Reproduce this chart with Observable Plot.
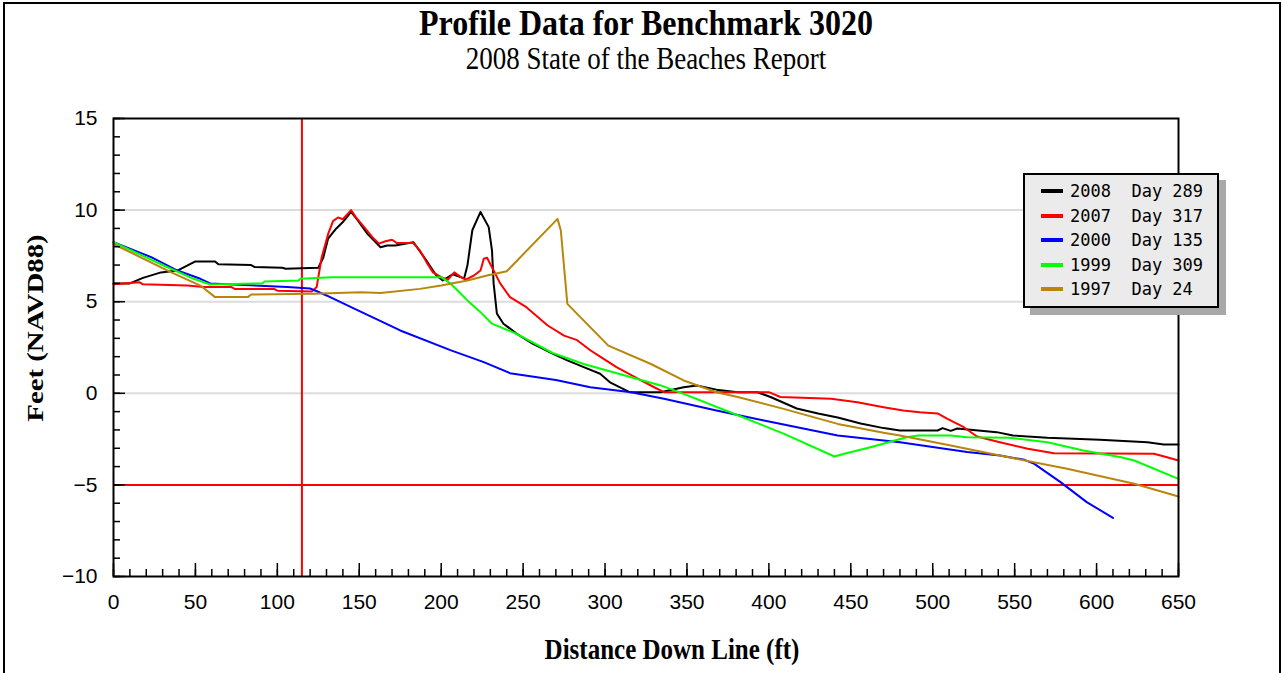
<!DOCTYPE html>
<html><head><meta charset="utf-8">
<script src="https://cdn.jsdelivr.net/npm/d3@7"></script>
<script src="https://cdn.jsdelivr.net/npm/@observablehq/plot@0.6"></script>
<style>
body{margin:0;background:#fff;}
#wrap{position:relative;width:1282px;height:673px;overflow:hidden;background:#fff;}
#border{position:absolute;left:3px;top:2px;width:1274px;height:700px;border:2px solid #000;border-bottom:none;}
.serif{position:absolute;font-family:"Liberation Serif","Times New Roman",serif;color:#000;white-space:nowrap;line-height:1;}
#title{left:5px;width:1282px;top:10px;line-height:0.85;text-align:center;font-size:32px;font-weight:bold;transform:scaleY(1.14);}
#subtitle{left:5px;width:1282px;top:48px;line-height:0.85;text-align:center;font-size:27px;transform:scaleY(1.15);}
#xlabel{left:1145px;width:0;top:636px;font-size:25px;font-weight:bold;}
#xlabel span{position:absolute;left:-1000px;width:2000px;text-align:center;transform:scaleY(1.2);display:block;}
#ylabel{left:-115px;top:313px;width:300px;height:30px;line-height:30px;text-align:center;font-size:24px;font-weight:bold;transform:rotate(-90deg) scaleX(1.2);}
#chart{position:absolute;left:0;top:0;}
#legend{position:absolute;left:1023px;top:173px;width:192px;height:131px;background:#ebebeb;border:2px solid #000;box-shadow:7px 7px 0 #a8a8a8;}
.row{position:absolute;left:0;height:25px;width:192px;}
.sw{position:absolute;left:16px;top:10px;width:22px;height:4px;}
.lt{position:absolute;left:45px;top:0;font-family:"DejaVu Sans Mono","Liberation Mono",monospace;font-size:17px;line-height:25px;white-space:pre;color:#000;}
</style></head><body>
<div id="wrap">
  <div id="border"></div>
  <div id="chart"></div>
  <div id="title" class="serif">Profile Data for Benchmark 3020</div>
  <div id="subtitle" class="serif">2008 State of the Beaches Report</div>
  <div id="ylabel" class="serif">Feet (NAVD88)</div>
  <div id="xlabel" class="serif"><span style="left:-1473px">Distance Down Line (ft)</span></div>
  <div id="legend"></div>
</div>
<script>
// ---- data ----
const seriesNames = ["2008", "2007", "2000", "1999", "1997"];
const seriesDays = ["289", "317", "135", "309", "24"];
const seriesColors = ["#000000", "#ff0000", "#0000ff", "#00ff00", "#b8860b"];

const x2008 = [0, 10, 18, 29, 39, 50, 62, 64, 84, 86, 103, 105, 125, 128, 131, 136, 140, 145, 149, 155, 163, 167, 172, 183, 191, 197, 201, 207, 210, 214, 216, 219, 224, 229, 231, 232, 234, 238, 246, 256, 268, 277, 287, 297, 303, 315, 334, 348, 356, 368, 381, 393, 401, 417, 430, 442, 456, 470, 480, 503, 506, 511, 515, 539, 549, 570, 602, 631, 641, 650];
const y2008 = [6.0, 6.0, 6.3, 6.6, 6.7, 7.2, 7.2, 7.05, 7.0, 6.9, 6.85, 6.8, 6.85, 7.4, 8.45, 9.0, 9.35, 9.9, 9.45, 8.7, 7.97, 8.07, 8.07, 8.25, 7.25, 6.43, 6.16, 6.5, 6.4, 6.27, 6.97, 8.9, 9.9, 9.07, 7.8, 6.0, 4.35, 3.8, 3.26, 2.7, 2.17, 1.8, 1.43, 1.07, 0.6, 0.06, 0.06, 0.33, 0.43, 0.2, 0.06, 0.06, -0.2, -0.83, -1.1, -1.32, -1.65, -1.9, -2.03, -2.03, -1.9, -2.05, -1.92, -2.12, -2.3, -2.43, -2.54, -2.67, -2.8, -2.8];

const x2007 = [0, 16, 18, 45, 55, 72, 74, 98, 100, 121, 124, 127, 131, 134, 137, 140, 145, 148, 153, 158, 162, 166, 170, 173, 183, 187, 191, 195, 200, 204, 208, 212, 215, 220, 224, 226, 228, 232, 236, 242, 252, 265, 275, 283, 291, 297, 307, 320, 330, 336, 400, 407, 438, 454, 470, 482, 492, 503, 509, 519, 527, 541, 558, 574, 635, 643, 650];
const y2007 = [5.95, 6.06, 5.95, 5.88, 5.8, 5.8, 5.7, 5.7, 5.6, 5.55, 5.8, 7.4, 8.7, 9.4, 9.6, 9.5, 10.0, 9.6, 9.07, 8.52, 8.17, 8.3, 8.38, 8.2, 8.2, 7.8, 7.16, 6.6, 6.34, 6.2, 6.6, 6.34, 6.2, 6.43, 6.7, 7.35, 7.4, 6.7, 6.0, 5.25, 4.7, 3.7, 3.15, 2.9, 2.35, 2.0, 1.43, 0.8, 0.33, 0.06, 0.06, -0.2, -0.3, -0.49, -0.76, -0.94, -1.03, -1.1, -1.4, -1.85, -2.36, -2.67, -3.03, -3.27, -3.3, -3.49, -3.67];

const x2000 = [0, 23, 39, 53, 59, 73, 106, 120, 126, 130, 145, 175, 206, 226, 242, 270, 291, 316, 336, 368, 397, 442, 480, 501, 521, 541, 556, 562, 578, 594, 610];
const y2000 = [8.25, 7.43, 6.7, 6.25, 6.0, 5.94, 5.8, 5.72, 5.5, 5.34, 4.7, 3.43, 2.34, 1.7, 1.1, 0.73, 0.33, 0.06, -0.3, -0.94, -1.48, -2.3, -2.67, -2.94, -3.2, -3.4, -3.63, -3.85, -4.85, -5.94, -6.8];

const x1999 = [0, 33, 49, 59, 91, 92, 113, 114, 133, 200, 206, 216, 224, 231, 246, 268, 287, 316, 334, 348, 381, 409, 440, 446, 462, 484, 491, 511, 521, 547, 570, 592, 615, 623, 650];
const y1999 = [8.25, 6.88, 6.25, 5.94, 6.0, 6.1, 6.16, 6.25, 6.34, 6.34, 5.97, 5.07, 4.43, 3.8, 3.25, 2.2, 1.6, 0.88, 0.43, -0.03, -1.2, -2.2, -3.45, -3.3, -2.94, -2.4, -2.3, -2.3, -2.4, -2.43, -2.67, -3.12, -3.49, -3.67, -4.67];

const x1997 = [0, 33, 53, 62, 82, 84, 122, 151, 163, 187, 200, 216, 228, 240, 271, 273, 277, 302, 328, 348, 368, 381, 409, 442, 470, 480, 501, 511, 541, 582, 623, 650];
const y1997 = [8.15, 6.7, 5.88, 5.25, 5.25, 5.39, 5.43, 5.52, 5.47, 5.7, 5.88, 6.16, 6.43, 6.66, 9.52, 8.9, 4.88, 2.6, 1.6, 0.7, 0.06, -0.2, -0.85, -1.67, -2.15, -2.3, -2.67, -2.85, -3.4, -4.12, -4.94, -5.63];

const xTickLabels = [0, 50, 100, 150, 200, 250, 300, 350, 400, 450, 500, 550, 600, 650];
const yTickLabels = [-10, -5, 0, 5, 10, 15];
const gridY = [0, 5, 10];
const refX = [115];
const refY = [-5];

// ---- build ----
const xs = [x2008, x2007, x2000, x1999, x1997];
const ys = [y2008, y2007, y2000, y1999, y1997];
const rows = seriesNames.flatMap((name, i) => xs[i].map((x, j) => ({series: name, x, y: ys[i][j]})));
const xMinor = d3.range(0, 651, 10);
const yMinor = d3.range(-10, 16, 1);
const tickFont = {fontSize: 21, fontFamily: "Liberation Sans, Arial, sans-serif", fill: "#000"};

const chart = Plot.plot({
  width: 1282, height: 673,
  marginLeft: 113, marginRight: 104, marginTop: 118, marginBottom: 97,
  style: {background: "none", color: "#000"},
  x: {domain: [0, 650], label: null},
  y: {domain: [-10, 15], label: null},
  color: {domain: seriesNames, range: seriesColors},
  marks: [
    Plot.ruleY(gridY, {stroke: "#dcdcdc", strokeWidth: 2}),
    Plot.ruleX(refX, {stroke: "#ff0000", strokeWidth: 2}),
    Plot.ruleY(refY, {stroke: "#ff0000", strokeWidth: 2}),
    Plot.line(rows, {x: "x", y: "y", z: "series", stroke: "series", strokeWidth: 2}),
    Plot.frame({stroke: "#000", strokeWidth: 2}),
    Plot.axisY({ticks: yMinor, tickSize: -7, tickFormat: () => "", strokeWidth: 1.5}),
    Plot.axisY({ticks: yTickLabels, tickSize: -12, tickFormat: () => "", strokeWidth: 1.5}),
    Plot.axisY({ticks: yTickLabels, tickSize: 0, tickPadding: 16, tickFormat: d3.format(""), ...tickFont}),
    Plot.axisX({ticks: xMinor, tickSize: -7, tickFormat: () => "", strokeWidth: 1.5}),
    Plot.axisX({ticks: xTickLabels, tickSize: -13, tickFormat: () => "", strokeWidth: 1.5}),
    Plot.axisX({ticks: xTickLabels, tickSize: 0, tickPadding: 18, tickFormat: d => String(d), ...tickFont})
  ]
});
document.getElementById("chart").appendChild(chart);

// legend
const legend = document.getElementById("legend");
seriesNames.forEach((name, i) => {
  const row = document.createElement("div");
  row.className = "row";
  row.style.top = (4 + i * 24.6) + "px";
  const sw = document.createElement("div");
  sw.className = "sw";
  sw.style.background = seriesColors[i];
  const lt = document.createElement("div");
  lt.className = "lt";
  lt.textContent = name + "  Day " + seriesDays[i];
  row.appendChild(sw); row.appendChild(lt);
  legend.appendChild(row);
});
</script>
</body></html>
